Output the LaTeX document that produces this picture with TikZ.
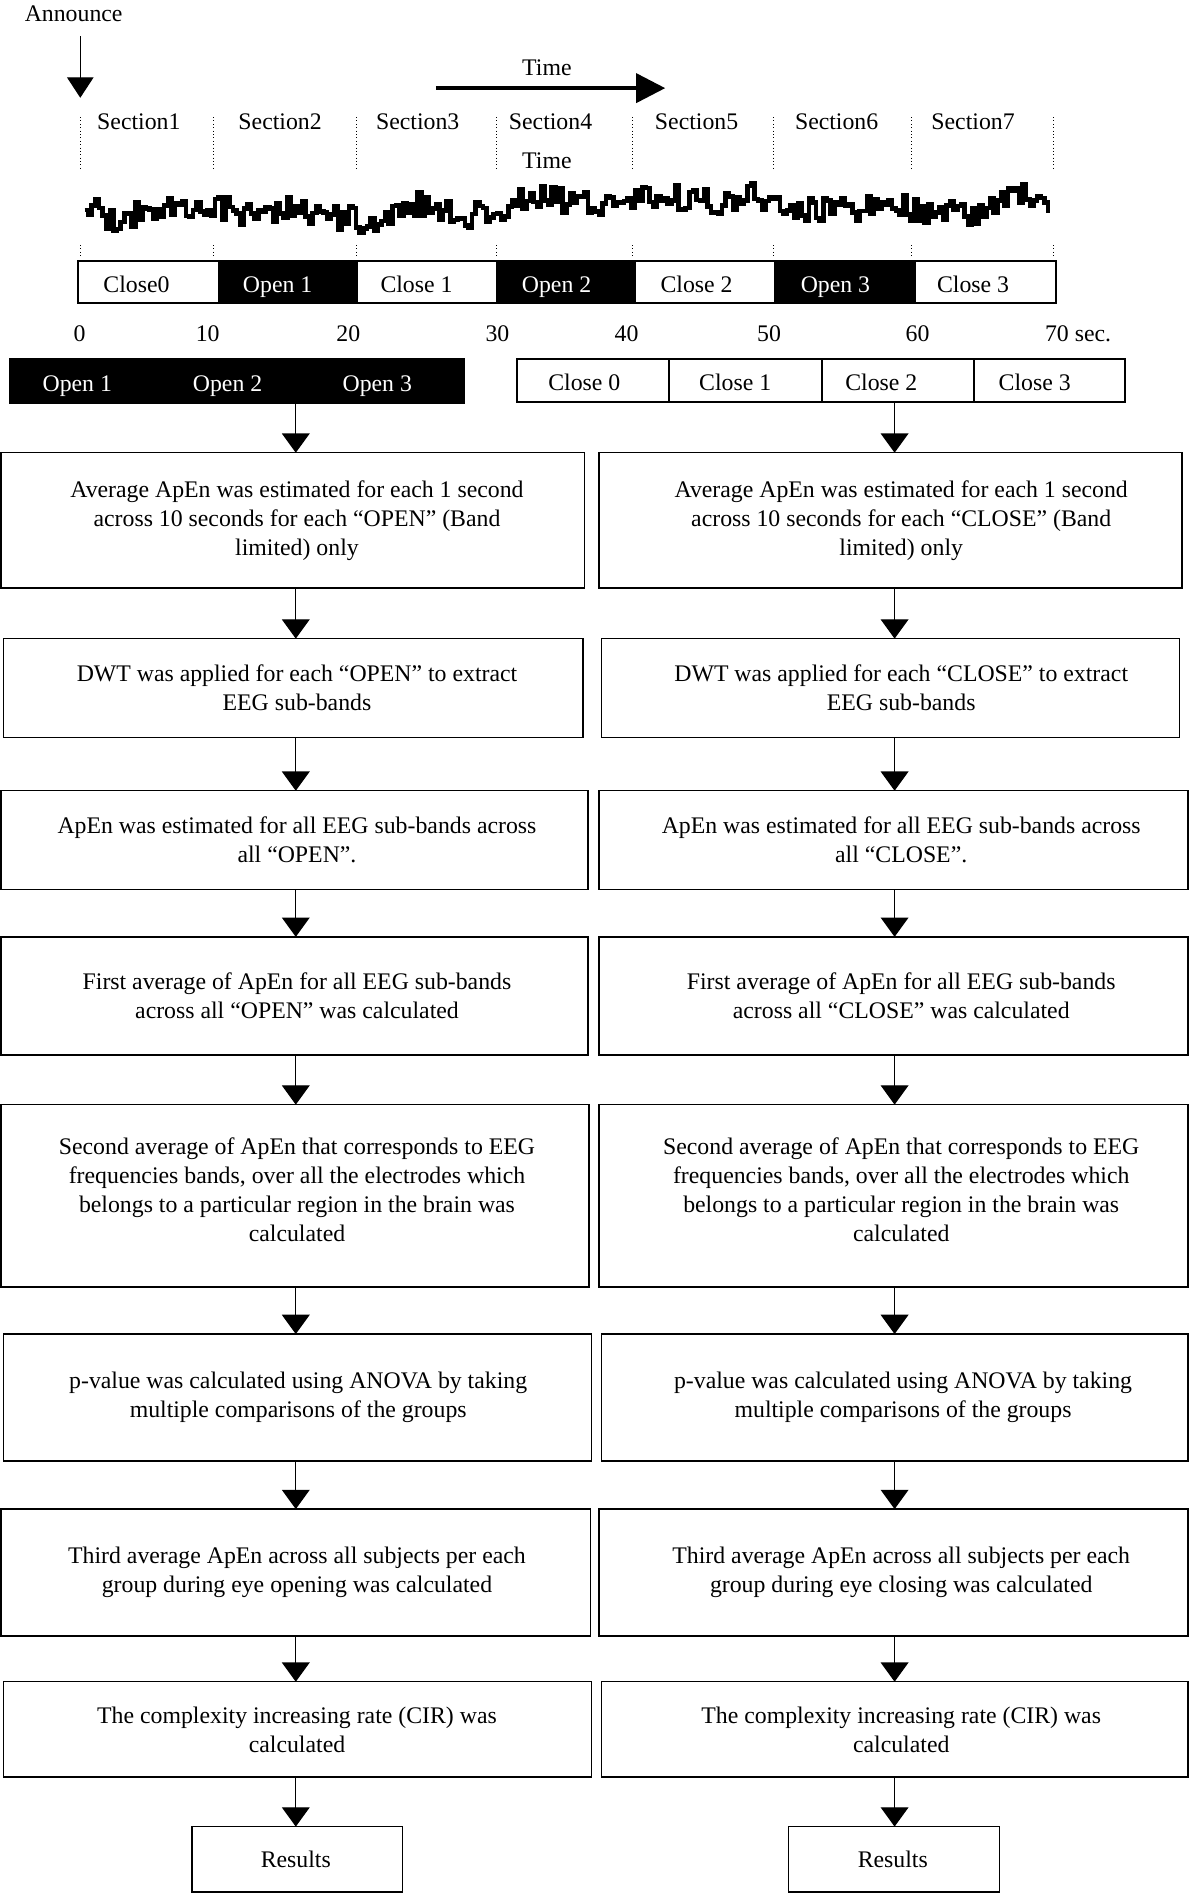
\documentclass[tikz,border=0pt]{standalone}
\usepackage{fontspec}
\setmainfont{Liberation Serif}
\usetikzlibrary{arrows.meta}
\tikzset{
  flowbox/.style={draw, line width=1.2pt, inner sep=0pt, outer sep=0pt, align=flush center, font=\fontsize{19.7}{24}\selectfont},
  segw/.style={draw, line width=1.6pt, fill=white, inner sep=0pt, outer sep=0pt},
  segb/.style={draw, line width=1.6pt, fill=black, inner sep=0pt, outer sep=0pt},
  lbl/.style={inner sep=0pt, text height=13pt, text depth=0pt, font=\fontsize{19.7}{24}\selectfont},
  wlbl/.style={lbl, text=white},
  flow/.style={line width=1pt, -{Triangle[length=16pt,width=23pt]}},
  tickline/.style={dotted, line width=0.8pt},
}
% box with text; #8 = x of the text centre
\newcommand{\mkbox}[8][flowbox]{%
  \pgfmathsetmacro\mkbw{#5-#3}\pgfmathsetmacro\mkbh{#6-#4}%
  \pgfmathsetmacro\mkcx{(#3+#5)/2}\pgfmathsetmacro\mkcy{(#4+#6)/2}%
  \pgfmathsetmacro\mktw{#5-#3-16}\pgfmathsetmacro\mkoff{2*(#8-\mkcx)}%
  \node[#1, minimum width=\mkbw pt, minimum height=\mkbh pt, text width=\mktw pt] (#2) at (\mkcx,\mkcy) {\advance\leftskip by \mkoff pt\relax #7\par};}
% plain rectangle node
\newcommand{\mkrect}[6]{%
  \pgfmathsetmacro\mkbw{#5-#3}\pgfmathsetmacro\mkbh{#6-#4}%
  \pgfmathsetmacro\mkcx{(#3+#5)/2}\pgfmathsetmacro\mkcy{(#4+#6)/2}%
  \node[#1, minimum width=\mkbw pt, minimum height=\mkbh pt] (#2) at (\mkcx,\mkcy) {};}
\newcommand{\liftup}{\par\vskip-13pt\hbox{}}
\begin{document}
\begin{tikzpicture}[x=1pt,y=-1pt]
\useasboundingbox (0,0) rectangle (985,1568);
\coordinate (colL) at (245,0);
\coordinate (colR) at (741,0);

% announce
\node[lbl] (ann) at (61,11) {Announce};
\coordinate (annA) at (66.5,30);
\coordinate (annB) at (66.5,81);
\draw[line width=1pt, -{Triangle[length=17pt,width=22pt]}] (annA) -- (annB);

% time arrow
\node[lbl] (time1) at (453,56) {Time};
\coordinate (tA) at (361,73);
\coordinate (tB) at (551,73);
\draw[line width=3pt, -{Triangle[length=24pt,width=24pt]}] (tA) -- (tB);
\node[lbl] (time2) at (453,133) {Time};

% sections
\foreach \x/\n in {115/1,232/2,346/3,456/4,577/5,693/6,806/7}
  \node[lbl] (sec\n) at (\x,101) {Section\n};
\foreach \x in {67,177,295,411,524,641,755,873} {
  \draw[tickline] (\x,97) -- (\x,141);
  \draw[tickline] (\x,203) -- (\x,214);
}

% EEG trace
\pgfmathsetseed{12}
\gdef\eegpts{}
\gdef\yv{0}
\foreach \i in {0,...,266}{%
  \pgfmathsetmacro\ynew{0.92*\yv+4*rand}%
  \global\let\yv\ynew
  \pgfmathsetmacro\xx{70+3*\i}%
  \pgfmathsetmacro\yy{172+\ynew+10*rand+3*sin(\i*11)}%
  \xdef\eegpts{\eegpts (\xx,\yy)}%
}
\draw[line width=3.8pt] plot[const plot] coordinates {\eegpts};

% top timeline bar
\mkrect{segw}{s0}{64.5}{216}{181}{251}
\mkrect{segb}{s1}{181}{216}{296}{251}
\mkrect{segw}{s2}{296}{216}{412}{251}
\mkrect{segb}{s3}{412}{216}{526}{251}
\mkrect{segw}{s4}{526}{216}{642}{251}
\mkrect{segb}{s5}{642}{216}{758}{251}
\mkrect{segw}{s6}{758}{216}{875}{251}
\node[lbl] (t0) at (113,236) {Close0};
\node[wlbl] (t1) at (230,236) {Open 1};
\node[lbl] (t2) at (345,236) {Close 1};
\node[wlbl] (t3) at (461,236) {Open 2};
\node[lbl] (t4) at (577,236) {Close 2};
\node[wlbl] (t5) at (692,236) {Open 3};
\node[lbl] (t6) at (806,236) {Close 3};

% axis numbers
\foreach \x/\t [count=\k] in {66/0,172/10,288.5/20,412/30,519/40,637/50,760/60,893/70 sec.}
  \node[lbl] (ax\k) at (\x,276) {\t};

% open bar
\mkrect{segb}{openbar}{8}{297}{384}{334}
\node[wlbl] (o1) at (64,318) {Open 1};
\node[wlbl] (o2) at (188.5,318) {Open 2};
\node[wlbl] (o3) at (312.5,318) {Open 3};

% close bar
\mkrect{segw}{c0}{428.5}{297.5}{554}{333}
\mkrect{segw}{c1}{554}{297.5}{680.5}{333}
\mkrect{segw}{c2}{680.5}{297.5}{806.5}{333}
\mkrect{segw}{c3}{806.5}{297.5}{932}{333}
\node[lbl] (cl0) at (484,317) {Close 0};
\node[lbl] (cl1) at (609,317) {Close 1};
\node[lbl] (cl2) at (730,317) {Close 2};
\node[lbl] (cl3) at (857,317) {Close 3};

% left column
\mkbox{l1}{1}{375}{484}{487}{Average ApEn was estimated for each 1 second\\across 10 seconds for each “OPEN” (Band\\limited) only}{246}
\mkbox{l2}{3}{529}{483}{611}{DWT was applied for each “OPEN” to extract\\EEG sub-bands}{246}
\mkbox{l3}{1}{655}{487}{737}{ApEn was estimated for all EEG sub-bands across\\all “OPEN”.}{246}
\mkbox{l4}{1}{776}{487}{874}{First average of ApEn for all EEG sub-bands\\across all “OPEN” was calculated}{246}
\mkbox{l5}{1}{915}{488}{1066}{Second average of ApEn that corresponds to EEG\\frequencies bands, over all the electrodes which\\belongs to a particular region in the brain was\\calculated\liftup}{246}
\mkbox{l6}{3}{1105}{490}{1210}{p-value was calculated using ANOVA by taking\\multiple comparisons of the groups}{247}
\mkbox{l7}{1}{1250}{489}{1355}{Third average ApEn across all subjects per each\\group during eye opening was calculated}{246}
\mkbox{l8}{3}{1393}{490}{1472}{The complexity increasing rate (CIR) was\\calculated}{246}
\mkbox{l9}{159}{1513}{333.5}{1567}{Results}{245}

% right column
\mkbox{r1}{496}{375}{979}{487}{Average ApEn was estimated for each 1 second\\across 10 seconds for each “CLOSE” (Band\\limited) only}{746.5}
\mkbox{r2}{498}{529}{977}{611}{DWT was applied for each “CLOSE” to extract\\EEG sub-bands}{746.5}
\mkbox{r3}{496}{655}{984}{737}{ApEn was estimated for all EEG sub-bands across\\all “CLOSE”.}{746.5}
\mkbox{r4}{496}{776}{984}{874}{First average of ApEn for all EEG sub-bands\\across all “CLOSE” was calculated}{746.5}
\mkbox{r5}{496}{915}{984}{1066}{Second average of ApEn that corresponds to EEG\\frequencies bands, over all the electrodes which\\belongs to a particular region in the brain was\\calculated\liftup}{746.5}
\mkbox{r6}{498}{1105}{984}{1210}{p-value was calculated using ANOVA by taking\\multiple comparisons of the groups}{748}
\mkbox{r7}{496}{1250}{984}{1355}{Third average ApEn across all subjects per each\\group during eye closing was calculated}{746.5}
\mkbox{r8}{498}{1393}{984}{1472}{The complexity increasing rate (CIR) was\\calculated}{746.5}
\mkbox{r9}{653}{1513}{828}{1567}{Results}{739.5}

% connectors
\draw[flow] (openbar.south -| colL) -- (l1.north -| colL);
\draw[flow] (c2.south -| colR) -- (r1.north -| colR);
\foreach \a/\b in {1/2,2/3,3/4,4/5,5/6,6/7,7/8,8/9} {
  \draw[flow] (l\a.south -| colL) -- (l\b.north -| colL);
  \draw[flow] (r\a.south -| colR) -- (r\b.north -| colR);
}
\end{tikzpicture}
\end{document}
